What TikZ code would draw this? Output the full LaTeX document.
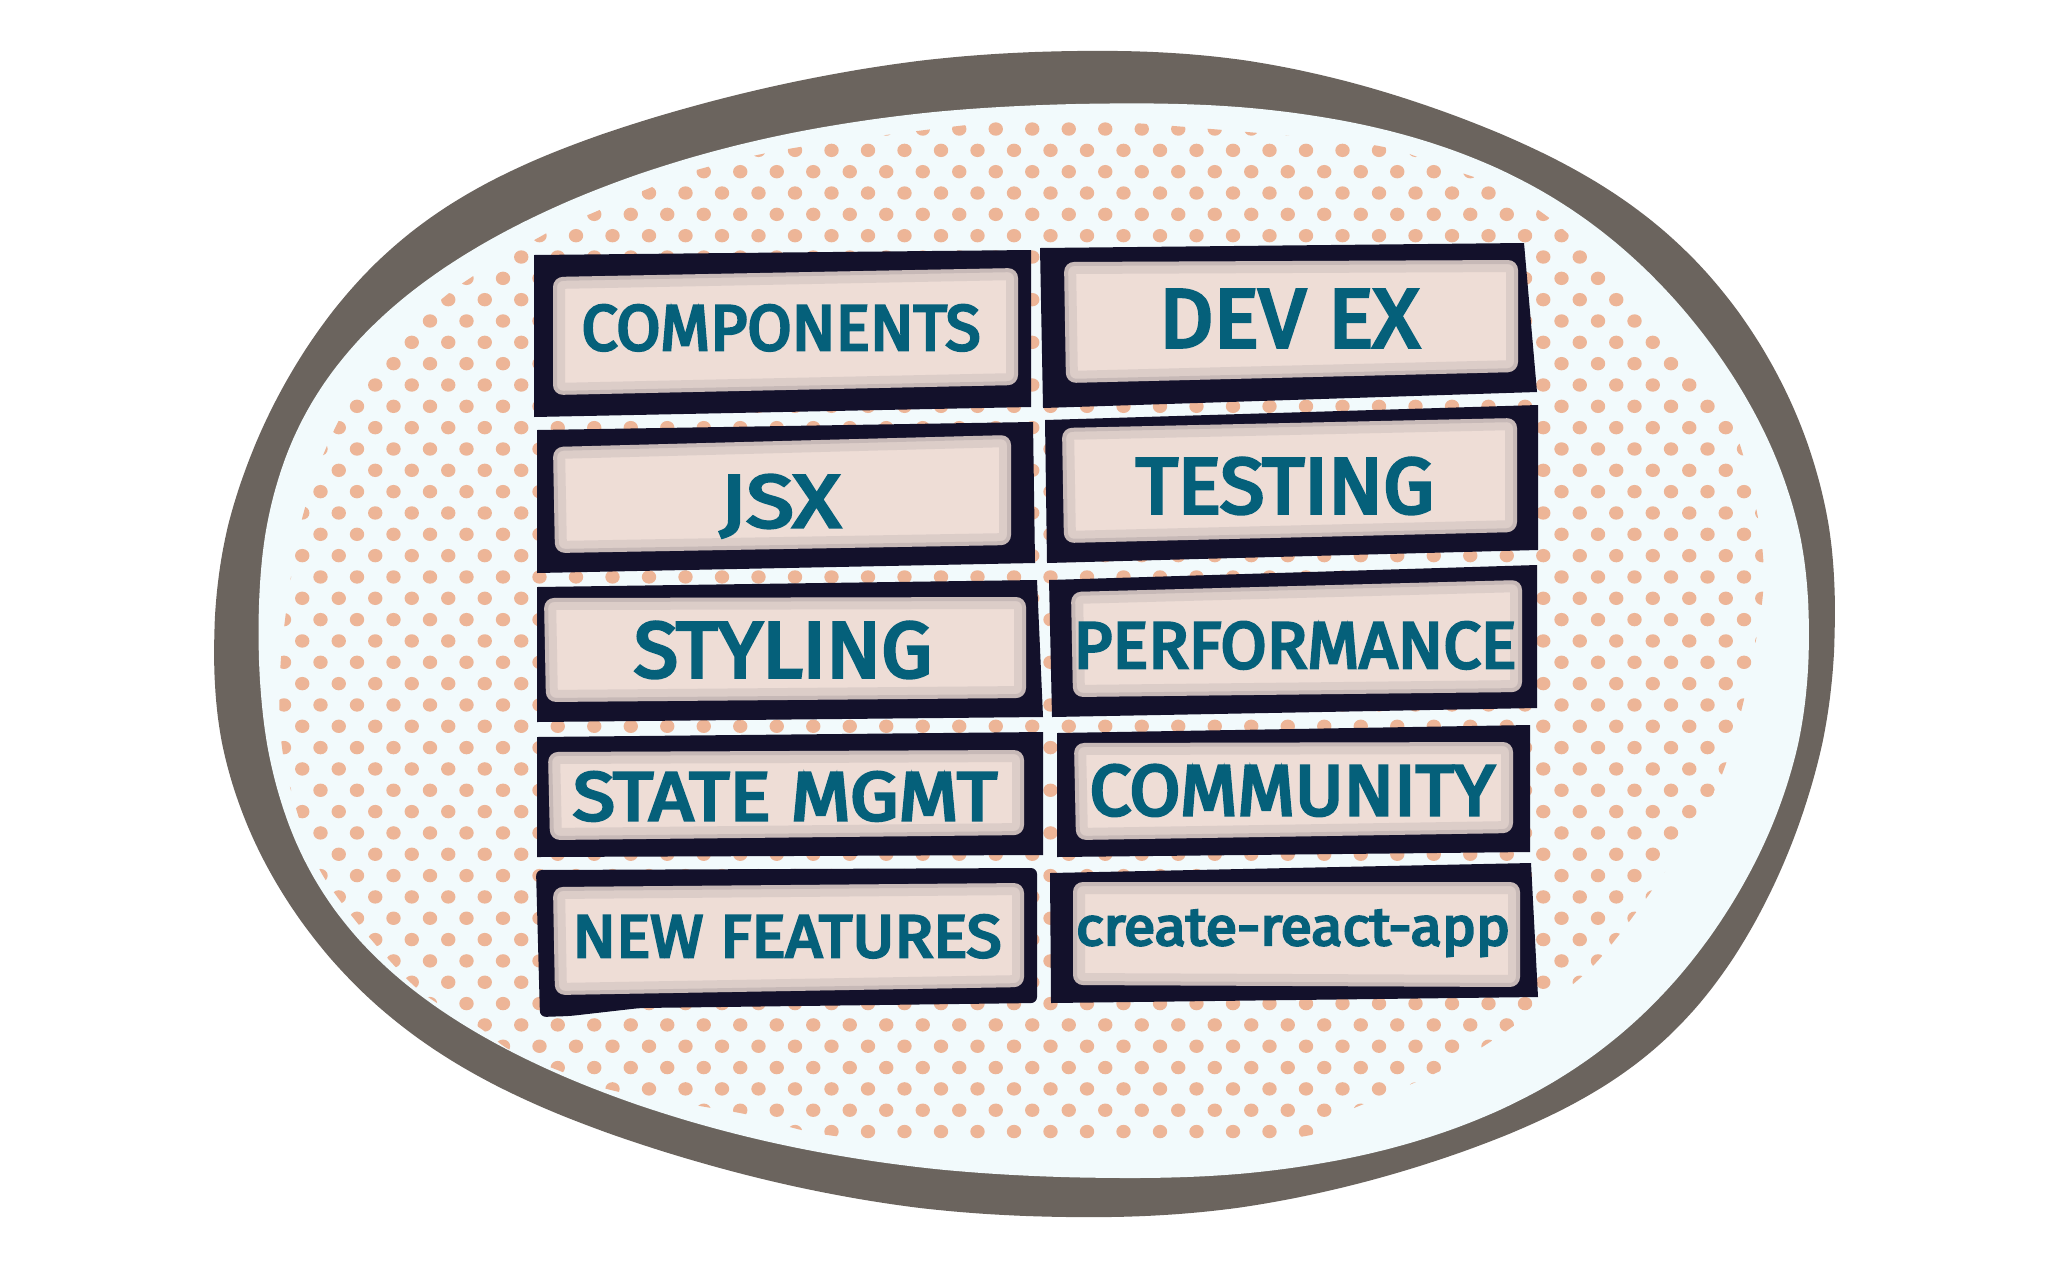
\documentclass[tikz,border=0pt]{standalone}
\usepackage{fontspec}
\setmainfont{Fira Sans}
\newfontfamily\tilefont{Fira Sans}[FakeBold=4.5]
\usepackage{graphicx}
\definecolor{ringgray}{HTML}{6B645E}
\definecolor{paper}{HTML}{F2FAFC}
\definecolor{dotc}{HTML}{EDB597}
\definecolor{navy}{HTML}{13112B}
\definecolor{tilepink}{HTML}{EEDDD6}
\definecolor{tealtext}{HTML}{05607A}
\newcommand\tiletxt[3]{\resizebox{#1pt}{#2pt}{\fontsize{30}{36}\tilefont #3}}
\newcommand\tilepanel[1]{%
  \fill[tilepink, rounded corners=5pt] #1;
  \begin{scope}
    \clip[rounded corners=5pt] #1;
    \draw[navy, opacity=0.08, line width=12pt, rounded corners=5pt] #1;
    \draw[navy, opacity=0.10, line width=4pt, rounded corners=5pt] #1;
  \end{scope}}
\tikzset{
  tileframe/.style={fill=navy},
  tilelabel/.style={inner sep=0pt, outer sep=0pt, text=tealtext, anchor=base},
  declare function={
    sgx(\t)=abs(cos(\t))^0.889*(cos(\t)<0 ? -1 : 1);
    sgy(\t)=abs(sin(\t))^0.889*(sin(\t)<0 ? -1 : 1);
  }
}
\begin{document}
\begin{tikzpicture}[x=0.5pt,y=-0.5pt]
\fill[white] (0,0) rectangle (2048,1280);
% ring (outer) and paper (inner)
\fill[ringgray] plot[domain=1:361, samples=181, smooth]
  ({1095 + (cos(\x)<0 ? 878 : 737)*sgx(\x) + 5*sin(5*\x+30)},
   {634 - 578*sgy(\x) + 5*sin(7*\x)}) -- cycle;
\fill[paper] plot[domain=1:361, samples=181, smooth]
  ({1105 + (cos(\x)<0 ? 850 : 700)*sgx(\x) + 4*sin(6*\x+70)},
   {640 - 537*sgy(\x) + 4*sin(4*\x+10)}) -- cycle;
% dots
\begin{scope}
\clip plot[smooth cycle, tension=0.5] coordinates {
(1090,120) (1360,143) (1440,166) (1500,188) (1565,231) (1680,350) (1732,423)
(1760,530) (1760,617) (1717,786) (1602,956) (1512,1027) (1442,1070) (1342,1113)
(1277,1139) (870,1139) (740,1113) (615,1091) (560,1071) (510,1050) (480,1028)
(411,983) (322,874) (284,760) (281,658) (303,515) (350,401) (443,298) (545,234)
(595,212) (645,190) (700,169) (800,147) (995,122)};
\foreach \j in {-10,...,39} {
  \pgfmathsetmacro\yy{321+21.33*\j}
  \pgfmathsetmacro\xo{abs(mod(\j,2))>0.5 ? -18.25 : 0}
  \foreach \k in {-6,...,37} {
    \fill[dotc] ({430+\xo+36.5*\k},\yy) ellipse[x radius=7.2, y radius=6.7];
  }
}
\end{scope}
% tiles: left column
\fill[tileframe] (534,255) -- (1031,250) -- (1031,407) -- (534,417) -- cycle;
\tilepanel{(553,277) -- (1018,268) -- (1018,385) -- (553,395) -- cycle}
\fill[tileframe] (537,430) -- (1033,422) -- (1035,563) -- (537,573) -- cycle;
\tilepanel{(553,447) -- (1011,435) -- (1011,545) -- (555,553) -- cycle}
\fill[tileframe] (537,587) -- (1037,580) -- (1043,717) -- (537,722) -- cycle;
\tilepanel{(544,598) -- (1026,597) -- (1026,698) -- (546,702) -- cycle}
\fill[tileframe] (537,737) -- (1043,732) -- (1043,855) -- (537,857) -- cycle;
\tilepanel{(548,752) -- (1024,750) -- (1024,835) -- (550,840) -- cycle}
\fill[tileframe, rounded corners=3pt] (536,870) -- (1037,868) -- (1037,1003) -- (640,1008) -- (570,1016) -- (540,1017) -- cycle;
\tilepanel{(553,887) -- (1024,883) -- (1024,987) -- (555,995) -- cycle}
% tiles: right column
\fill[tileframe] (1040,248) -- (1524,243) -- (1537,392) -- (1043,408) -- cycle;
\tilepanel{(1064,262) -- (1518,260) -- (1518,372) -- (1066,383) -- cycle}
\fill[tileframe] (1045,420) -- (1538,405) -- (1538,550) -- (1047,563) -- cycle;
\tilepanel{(1062,428) -- (1517,418) -- (1517,532) -- (1064,543) -- cycle}
\fill[tileframe] (1049,580) -- (1537,565) -- (1537,708) -- (1052,717) -- cycle;
\tilepanel{(1071,592) -- (1522,580) -- (1522,692) -- (1073,697) -- cycle}
\fill[tileframe] (1057,733) -- (1530,725) -- (1530,852) -- (1057,857) -- cycle;
\tilepanel{(1074,743) -- (1513,742) -- (1513,833) -- (1076,840) -- cycle}
\fill[tileframe] (1050,873) -- (1531,863) -- (1538,997) -- (1051,1003) -- cycle;
\tilepanel{(1073,882) -- (1520,882) -- (1520,987) -- (1073,985) -- cycle}
% labels (anchored at baseline)
\node[tilelabel] (components) at (781,350) {\tiletxt{199.5}{22.5}{COMPONENTS}};
\node[tilelabel] (devex) at (1289,347) {\tiletxt{130}{28.5}{DEV EX}};
\node[tilelabel] (jsx) at (780,527) {\tiletxt{60}{26}{JSX}};
\node[tilelabel] (testing) at (1285,513) {\tiletxt{149}{27.5}{TESTING}};
\node[tilelabel] (styling) at (783,677) {\tiletxt{149}{27.5}{STYLING}};
\node[tilelabel] (performance) at (1295,668) {\tiletxt{221.5}{23}{PERFORMANCE}};
\node[tilelabel] (statemgmt) at (785,820) {\tiletxt{212}{24}{STATE MGMT}};
\node[tilelabel] (community) at (1292,815) {\tiletxt{202.5}{25}{COMMUNITY}};
\node[tilelabel] (newfeatures) at (787,957) {\tiletxt{214.5}{21}{NEW FEATURES}};
\node[tilelabel] (cra) at (1293,945) {\tiletxt{217}{17.5}{create-react-app}};
\end{tikzpicture}
\end{document}
